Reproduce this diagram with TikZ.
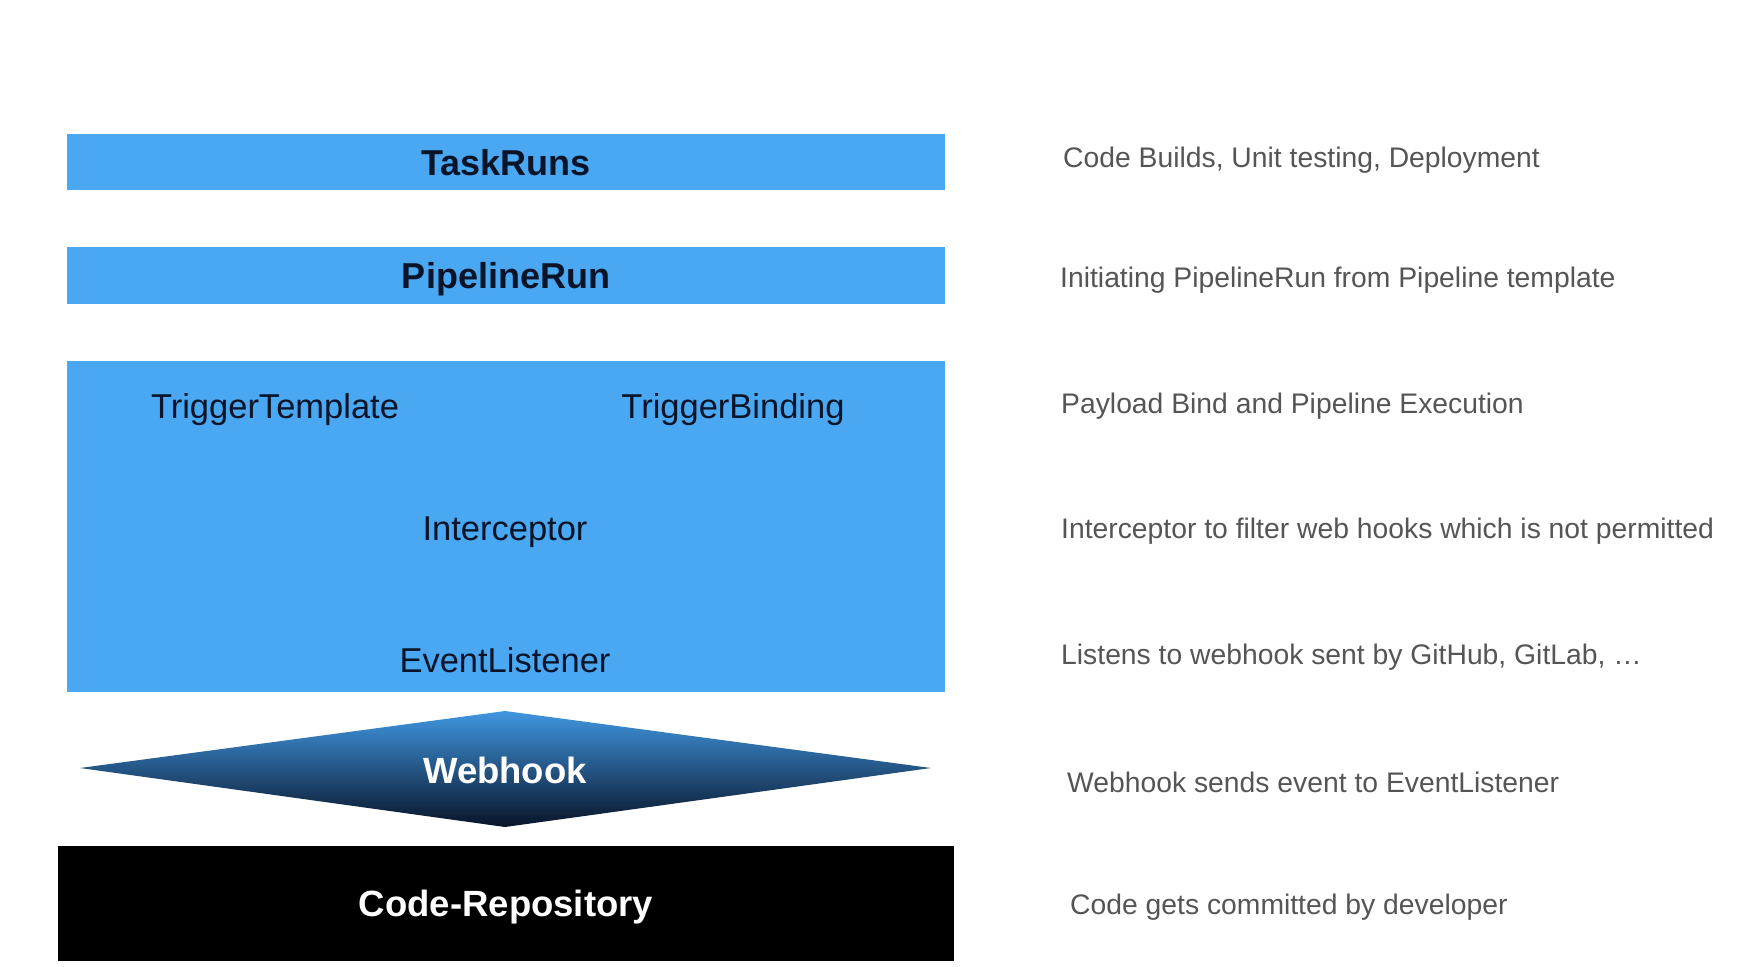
\documentclass[tikz,border=0pt]{standalone}
\usepackage{fontspec}
\setmainfont{Liberation Sans}
\usepackage{tikz}
\usetikzlibrary{positioning}
\definecolor{barblue}{RGB}{74,168,242}
\definecolor{hooktop}{RGB}{64,150,224}
\definecolor{hookbot}{RGB}{8,20,40}
\definecolor{notegray}{RGB}{85,85,85}
\definecolor{labelink}{RGB}{10,20,40}
\tikzset{
	bar/.style={fill=barblue, draw=none, minimum width=878pt, minimum height=56pt,
		font=\fontsize{36}{42}\selectfont\bfseries, text=labelink,
		text height=26pt, text depth=0pt},
	inlabel/.style={font=\fontsize{34.5}{40}\selectfont, text=labelink},
	note/.style={anchor=west, font=\fontsize{28.3}{33}\selectfont, text=notegray, inner sep=0pt}
}

\begin{document}
\begin{tikzpicture}[x=1pt, y=-1pt]
	\useasboundingbox[fill=white] (0,0) rectangle (1752,966);
	
	% Top bars
	\node[bar] (taskruns) at (506,162) {TaskRuns};
	\node[bar, minimum height=57pt] (pipelinerun) at (506,275.5) {PipelineRun};
	
	% Trigger box
	\node[bar, minimum height=331pt] (triggers) at (506,526.5) {};
	\node[inlabel] (template) at (275,409.5) {TriggerTemplate};
	\node[inlabel] (binding) at (733,409.5) {TriggerBinding};
	\node[inlabel] (interceptor) at (505,532) {Interceptor};
	\node[inlabel] (listener) at (505,660) {EventListener};
	
	% Webhook diamond
	\shade[top color=hooktop, bottom color=hookbot]
		(80,768) -- (505,711) -- (931,768) -- (505,827) -- cycle;
	\node[font=\fontsize{36.5}{42}\selectfont\bfseries, text=white] (webhook) at (505,770) {Webhook};
	
	% Code repository
	\node[fill=black, minimum width=896pt, minimum height=115pt,
		font=\fontsize{36.5}{42}\selectfont\bfseries, text=white,
		text height=26pt, text depth=0pt] (repo) at (506,903.5) {Code-Repository};
	
	% Notes on the right
	\foreach \i/\x/\y/\txt in {
		1/1063/160/{Code Builds, Unit testing, Deployment},
		2/1060/280/{Initiating PipelineRun from Pipeline template},
		3/1061/406/{Payload Bind and Pipeline Execution},
		4/1061/531/{Interceptor to filter web hooks which is not permitted},
		5/1061/657/{Listens to webhook sent by GitHub, GitLab, \dots},
		6/1067/782/{Webhook sends event to EventListener},
		7/1070/907/{Code gets committed by developer}} {
		\node[note] (note\i) at (\x,\y) {\txt};
	}
	
\end{tikzpicture}
\end{document}
